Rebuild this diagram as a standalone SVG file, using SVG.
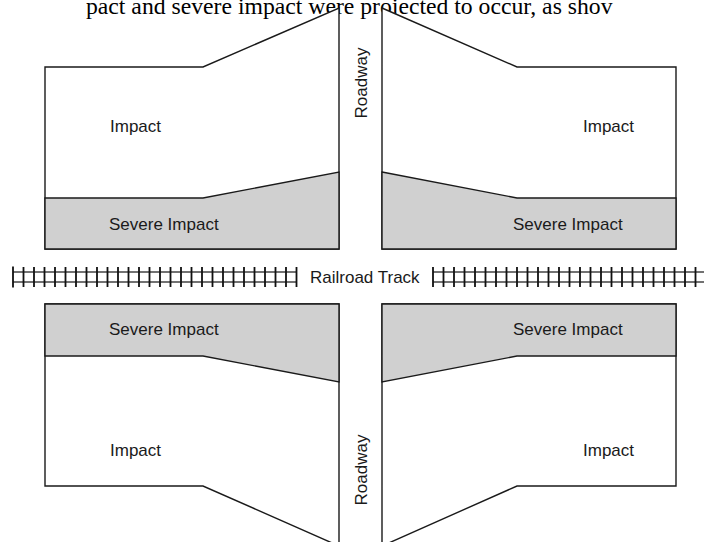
<svg xmlns="http://www.w3.org/2000/svg" width="704" height="542" viewBox="0 0 704 542">
<style>
.bg{fill:#fff;stroke:#1a1a1a;stroke-width:1.4;stroke-linejoin:miter}
.sev{fill:#d0d0d0;stroke:#1a1a1a;stroke-width:1.4}
.lbl{font-family:"Liberation Sans",Arial,sans-serif;font-size:17px;fill:#1a1a1a}
.top{font-family:"Liberation Serif","Times New Roman",serif;font-size:23.7px;fill:#000}
.rail{stroke:#444;stroke-width:1.5;fill:none}
.tie{stroke:#111;stroke-width:1.8;fill:none}
</style>
<rect width="704" height="542" fill="#fff"/>
<text class="top" x="86" y="14">pact and severe impact were projected to occur, as shov</text>

<g id="top-left">
<path class="bg" d="M45,67 H203 L339,8 V249 H45 Z"/>
<path class="sev" d="M45,198 H203 L339,172 V249 H45 Z"/>
<text class="lbl" x="110" y="132">Impact</text>
<text class="lbl" x="109" y="230">Severe Impact</text>
</g>

<g id="top-right">
<path class="bg" d="M382,8 L517,67 H676 V249 H382 Z"/>
<path class="sev" d="M382,172 L517,198 H676 V249 H382 Z"/>
<text class="lbl" x="583" y="132">Impact</text>
<text class="lbl" x="513" y="230">Severe Impact</text>
</g>

<g id="bottom-left">
<path class="bg" d="M45,304 H339 V546 L203,486 H45 Z"/>
<path class="sev" d="M45,304 H339 V382 L203,356 H45 Z"/>
<text class="lbl" x="109" y="335">Severe Impact</text>
<text class="lbl" x="110" y="456">Impact</text>
</g>

<g id="bottom-right">
<path class="bg" d="M382,304 H676 V486 H517 L382,546 Z"/>
<path class="sev" d="M382,304 H676 V356 H517 L382,382 Z"/>
<text class="lbl" x="513" y="335">Severe Impact</text>
<text class="lbl" x="583" y="456">Impact</text>
</g>

<g id="roadway-top">
<text class="lbl" transform="translate(367,83) rotate(-90)" text-anchor="middle">Roadway</text>
</g>
<g id="roadway-bottom">
<text class="lbl" transform="translate(367,470) rotate(-90)" text-anchor="middle">Roadway</text>
</g>

<g id="railroad">
<path class="rail" d="M13,272 H297 M13,282 H297 M433,272 H704 M433,282 H704"/>
<path class="tie" d="M13,266.5 V287.5 M23.5,267 V287 M34,267 V287 M44.5,267 V287 M55,267 V287 M65.5,267 V287 M76,267 V287 M86.5,267 V287 M97,267 V287 M107.5,267 V287 M118,267 V287 M128.5,267 V287 M139,267 V287 M149.5,267 V287 M160,267 V287 M170.5,267 V287 M181,267 V287 M191.5,267 V287 M202,267 V287 M212.5,267 V287 M223,267 V287 M233.5,267 V287 M244,267 V287 M254.5,267 V287 M265,267 V287 M275.5,267 V287 M286,267 V287 M296.5,267 V287"/>
<path class="tie" d="M433,267 V287 M443.5,267 V287 M454,267 V287 M464.5,267 V287 M475,267 V287 M485.5,267 V287 M496,267 V287 M506.5,267 V287 M517,267 V287 M527.5,267 V287 M538,267 V287 M548.5,267 V287 M559,267 V287 M569.5,267 V287 M580,267 V287 M590.5,267 V287 M601,267 V287 M611.5,267 V287 M622,267 V287 M632.5,267 V287 M643,267 V287 M653.5,267 V287 M664,267 V287 M674.5,267 V287 M685,267 V287 M695.5,267 V287"/>
<text class="lbl" x="310" y="283">Railroad Track</text>
</g>
</svg>
